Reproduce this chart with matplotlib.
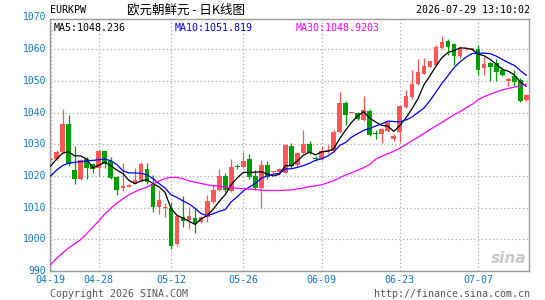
import matplotlib.pyplot as plt
import numpy as np
import pandas as pd

# daily candles, EUR/KPW
opens = [1025.1, 1025.2, 1027.6, 1036.3, 1021.8, 1019.0, 1025.2, 1023.9, 1022.6, 1027.8,
         1024.6, 1019.5, 1016.2, 1016.6, 1017.6, 1018.6, 1022.3, 1017.6, 1010.2, 1009.8,
         1009.8, 998.6, 1007.1, 1006.1, 1006.7, 1005.4, 1006.9, 1011.9, 1015.7, 1020.1,
         1015.3, 1023.1, 1022.8, 1025.2, 1020.0, 1016.1, 1023.4, 1021.2, 1021.3, 1021.0,
         1029.4, 1023.4, 1027.3, 1030.2, 1025.6, 1025.2, 1027.6, 1027.9, 1033.9, 1043.1,
         1039.9, 1039.7, 1037.6, 1040.4, 1033.4, 1033.2, 1034.2, 1031.8, 1033.7, 1041.7,
         1044.9, 1049.1, 1052.2, 1054.5, 1055.0, 1060.3, 1062.7, 1061.7, 1057.7, 1060.0,
         1059.8, 1060.0, 1054.0, 1055.6, 1055.6, 1053.5, 1049.8, 1051.4, 1050.1, 1043.8]
closes = [1025.3, 1027.6, 1036.3, 1023.7, 1018.9, 1025.0, 1022.6, 1022.3, 1027.9, 1023.9,
          1019.4, 1015.7, 1016.8, 1017.2, 1018.6, 1023.7, 1018.0, 1010.2, 1012.3, 1010.0,
          998.0, 1007.3, 1005.7, 1007.5, 1004.9, 1006.9, 1012.2, 1015.7, 1020.1, 1015.4,
          1022.8, 1022.8, 1024.7, 1019.5, 1016.1, 1023.4, 1019.5, 1021.4, 1022.1, 1029.9,
          1023.1, 1027.3, 1030.2, 1027.1, 1025.4, 1027.9, 1028.3, 1033.9, 1043.1, 1039.2,
          1040.1, 1038.1, 1040.8, 1032.9, 1033.1, 1034.7, 1037.0, 1032.6, 1042.0, 1045.1,
          1049.0, 1052.9, 1054.7, 1056.1, 1060.6, 1062.4, 1060.8, 1057.9, 1060.3, 1060.1,
          1060.3, 1053.5, 1055.3, 1054.5, 1052.9, 1051.9, 1050.6, 1049.5, 1043.6, 1045.6]
highs = [1025.5, 1028.1, 1041.0, 1039.1, 1029.5, 1025.4, 1026.0, 1024.2, 1028.6, 1028.0,
         1025.9, 1020.0, 1024.1, 1017.6, 1022.5, 1024.3, 1024.0, 1020.4, 1015.5, 1011.4,
         1011.9, 1007.8, 1013.8, 1010.2, 1009.8, 1007.5, 1014.0, 1017.4, 1022.3, 1021.0,
         1025.2, 1023.6, 1027.6, 1026.8, 1022.0, 1024.9, 1024.6, 1021.6, 1022.4, 1030.2,
         1030.5, 1027.6, 1034.4, 1030.9, 1026.2, 1029.4, 1029.9, 1034.5, 1046.5, 1043.5,
         1040.3, 1040.2, 1045.2, 1041.0, 1034.6, 1035.2, 1037.4, 1033.3, 1042.4, 1047.2,
         1053.5, 1056.8, 1057.2, 1056.4, 1061.4, 1064.2, 1063.2, 1062.0, 1060.6, 1060.3,
         1060.5, 1061.4, 1057.5, 1056.0, 1056.8, 1054.5, 1050.9, 1053.5, 1050.8, 1045.8]
lows = [1025.0, 1025.0, 1027.3, 1023.2, 1017.6, 1018.8, 1019.0, 1021.0, 1020.0, 1022.5,
        1019.0, 1014.0, 1015.3, 1016.4, 1017.3, 1018.0, 1017.5, 1008.7, 1008.0, 1007.0,
        996.9, 997.8, 1004.0, 1003.4, 1002.0, 1005.0, 1005.5, 1011.5, 1015.3, 1014.8,
        1015.0, 1022.3, 1022.5, 1018.9, 1015.5, 1010.0, 1019.0, 1021.0, 1021.0, 1020.8,
        1022.5, 1022.8, 1027.0, 1026.8, 1024.7, 1024.9, 1027.3, 1027.6, 1033.5, 1036.0,
        1039.7, 1037.6, 1037.2, 1032.5, 1031.6, 1030.3, 1033.9, 1030.9, 1030.8, 1041.3,
        1044.2, 1048.6, 1052.0, 1054.2, 1054.6, 1060.0, 1058.0, 1055.0, 1057.3, 1059.8,
        1059.6, 1051.9, 1051.7, 1049.8, 1049.8, 1051.5, 1048.4, 1048.4, 1043.2, 1043.6]

# moving-average values before their window fills
ma5_head = [1023.1, 1025.3, 1027.2, 1027.6]
ma10_head = [1020.0, 1021.8, 1023.3, 1024.0, 1024.3, 1024.5, 1024.7, 1024.9, 1025.1]
ma30 = [992.0, 994.0, 995.7, 997.3, 998.6, 999.9, 1001.8, 1003.8, 1005.8, 1008.0,
        1009.8, 1011.4, 1012.8, 1014.0, 1015.0, 1015.8, 1016.5, 1017.4, 1018.4, 1019.2,
        1019.5, 1019.5, 1019.1, 1018.4, 1018.0, 1017.6, 1017.2, 1016.9, 1016.8, 1016.4,
        1016.3, 1016.1, 1016.0, 1015.8, 1015.7, 1015.5, 1015.4, 1015.4, 1015.4, 1015.5,
        1015.6, 1015.9, 1016.2, 1016.6, 1016.9, 1017.2, 1017.8, 1018.5, 1019.4, 1020.3,
        1021.0, 1021.8, 1022.6, 1023.6, 1025.3, 1026.2, 1027.0, 1027.8, 1028.7, 1029.9,
        1031.1, 1032.2, 1033.4, 1034.6, 1035.8, 1036.9, 1038.1, 1039.3, 1040.3, 1041.5,
        1042.6, 1044.0, 1045.0, 1045.8, 1046.5, 1047.1, 1047.6, 1048.0, 1048.4, 1048.92]

tick_pos = [0, 8, 20, 32, 45, 58, 71]
tick_labels = ["04-19", "04-28", "05-12", "05-26", "06-09", "06-23", "07-07"]
y_levels = [990, 1000, 1010, 1020, 1030, 1040, 1050, 1060, 1070]

ma5_text = "MA5:1048.236"
ma10_text = "MA10:1051.819"
ma30_text = "MA30:1048.9203"

RED = "#ff5555"
GREEN = "#00a000"
BLUE_TXT = "#1177cc"
MONO = "DejaVu Sans Mono"

o = np.array(opens)
c = np.array(closes)
h = np.array(highs)
l = np.array(lows)
x = np.arange(len(c))

ma5 = pd.Series(c).rolling(5).mean().to_numpy()
ma5[:4] = ma5_head
ma10 = pd.Series(c).rolling(10).mean().to_numpy()
ma10[:9] = ma10_head

fig = plt.figure(figsize=(5.45, 3.0), dpi=100)
ax = fig.add_axes([50 / 545, 29 / 300, 479 / 545, 252 / 300])

# dotted grid
for yv in y_levels:
    ax.axhline(yv, color="#aaaaaa", lw=0.9, ls=(0, (1, 2)), zorder=0)
for xp in tick_pos:
    ax.axvline(xp, color="#aaaaaa", lw=0.9, ls=(0, (1, 2)), zorder=0)

# candles
up = c >= o
cols = np.where(up, RED, GREEN)
ax.vlines(x, l, h, colors=cols, lw=0.9, zorder=2)
body = np.maximum(np.abs(c - o), 0.25)
ax.bar(x, body, bottom=np.minimum(o, c), width=0.78, color=cols, lw=0, zorder=3)

ax.plot(x, ma5, color="black", lw=0.9, zorder=4)
ax.plot(x, ma10, color="#0000ff", lw=0.9, zorder=4)
ax.plot(x, ma30, color="#ff00ff", lw=0.9, zorder=4)

ax.set_xlim(-0.1, 79.45)
ax.set_ylim(990, 1069.5)
ax.set_yticks([])
ax.set_xticks(tick_pos, tick_labels)
ax.tick_params(axis="x", length=0, pad=3, labelsize=7.2, labelcolor=BLUE_TXT)
for lab in ax.get_xticklabels():
    lab.set_fontfamily(MONO)
for s in ax.spines.values():
    s.set_color("#999999")
    s.set_linewidth(1.0)

# y labels (1070 sits just above the frame, so draw them as text)
ytrans = ax.get_yaxis_transform()
for yv in y_levels:
    ax.text(-0.008, yv, str(yv), transform=ytrans, ha="right", va="center",
            fontsize=7, color=BLUE_TXT, family=MONO, clip_on=False)

# MA legend inside the top of the plot
ax.text(0.008, 0.985, ma5_text, transform=ax.transAxes, va="top", fontsize=7.2,
        family=MONO, color="black")
ax.text(0.26, 0.985, ma10_text, transform=ax.transAxes, va="top", fontsize=7.2,
        family=MONO, color="#0000ff")
ax.text(0.513, 0.985, ma30_text, transform=ax.transAxes, va="top", fontsize=7.2,
        family=MONO, color="#ff00ff")

# sina watermark
ax.text(0.995, 0.02, "sina", transform=ax.transAxes, ha="right", va="bottom",
        fontsize=11, fontweight="bold", style="italic", color="#c8c8c8", family="DejaVu Sans")

# header and footer
fig.text(50 / 545, 1 - 10 / 300, "EURKPW", fontsize=7.2, family=MONO, va="center")
fig.text(186 / 545, 1 - 10 / 300, "欧元朝鲜元 - 日K线图", fontsize=9, ha="center", va="center",
         family=["Noto Sans CJK SC", "DejaVu Sans"])
fig.text(530 / 545, 1 - 10 / 300, "2026-07-29 13:10:02", fontsize=7.2, family=MONO,
         ha="right", va="center")
fig.text(50 / 545, 1 - 294 / 300, "Copyright 2026 SINA.COM", fontsize=7.2, family=MONO,
         color="#555555", va="center")
fig.text(530 / 545, 1 - 294 / 300, "http://finance.sina.com.cn", fontsize=7.2, family=MONO,
         color="#555555", ha="right", va="center")

fig.savefig("out.png", dpi=100)
